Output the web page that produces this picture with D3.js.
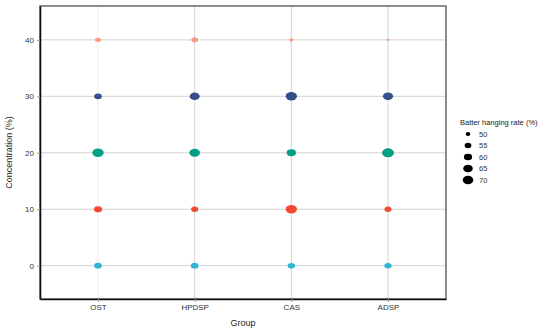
<!DOCTYPE html>
<html>
<head>
<meta charset="utf-8">
<script src="https://cdn.jsdelivr.net/npm/d3@7"></script>
<style>
  body { margin: 0; background: #fff; }
  text { font-family: "Liberation Sans", Arial, sans-serif; }
</style>
</head>
<body>
<svg id="chart"></svg>
<script>
// data
var groups = ["OST", "HPDSP", "CAS", "ADSP"];
var concentrations = [0, 10, 20, 30, 40];
var yTicks = [0, 10, 20, 30, 40];
var legendBreaks = [50, 55, 60, 65, 70];
var colors = ["#2DB6D6", "#F04B30", "#00A087", "#344F8A", "#F59D80"];
// batter hanging rate (%) per concentration row, in group order
var rate0 = [58, 58, 57, 57];
var rate10 = [60, 56, 73, 56];
var rate20 = [73, 70, 64, 76];
var rate30 = [58, 67, 73, 68];
var rate40 = [53, 55, 49, 47];
var rates = [rate0, rate10, rate20, rate30, rate40];

var width = 550, height = 332;
var svg = d3.select("#chart").attr("width", width).attr("height", height);

// panel edges (note: "top" is taken by window.top)
var pLeft = 40, pRight = 446, pTop = 6, pBottom = 299;

//scales
var xscale = d3.scalePoint().domain(groups).range([pLeft, pRight]).padding(0.6);
var yscale = d3.scaleLinear().domain([-5.9, 46.0]).range([pBottom, pTop]);
// area of the dot grows linearly with the rate, width = sqrt(area)
var areaScale = d3.scaleLinear().domain([50, 70]).range([22, 114]);
function dotWidth(v) { return Math.sqrt(Math.max(areaScale(v), 4)); }

// gridlines
svg.append("g").selectAll("line")
  .data(yTicks)
  .enter().append("line")
  .attr("x1", pLeft).attr("x2", pRight)
  .attr("y1", function(d) { return yscale(d); })
  .attr("y2", function(d) { return yscale(d); })
  .attr("stroke", "#d3d3d3")
  .attr("stroke-width", 1);

svg.append("g").selectAll("line")
  .data(groups)
  .enter().append("line")
  .attr("x1", function(d) { return xscale(d); })
  .attr("x2", function(d) { return xscale(d); })
  .attr("y1", pTop).attr("y2", pBottom)
  .attr("stroke", function(d, i) { return i == 0 ? "#ececec" : "#d3d3d3"; })
  .attr("stroke-width", 1);

// points
var points = [];
concentrations.forEach(function(c, i) {
  groups.forEach(function(g, j) {
    points.push({ group: g, conc: c, rate: rates[i][j], color: colors[i] });
  });
});

svg.append("g").selectAll("ellipse")
  .data(points)
  .enter().append("ellipse")
  .attr("cx", function(d) { return xscale(d.group); })
  .attr("cy", function(d) { return yscale(d.conc); })
  .attr("rx", function(d) { return dotWidth(d.rate) / 2; })
  .attr("ry", function(d) { return dotWidth(d.rate) / 2 * 0.75; })
  .attr("fill", function(d) { return d.color; });

// panel border
svg.append("rect")
  .attr("x", pLeft).attr("y", pTop)
  .attr("width", pRight - pLeft).attr("height", pBottom - pTop)
  .attr("fill", "none")
  .attr("stroke", "#444")
  .attr("stroke-width", 1.2);

// axes
var yAxis = d3.axisLeft(yscale).tickValues(yTicks).tickSize(3).tickSizeOuter(0).tickPadding(3);
var gy = svg.append("g").attr("transform", "translate(" + pLeft + ",0)").call(yAxis);
var xAxis = d3.axisBottom(xscale).tickSize(3).tickSizeOuter(0).tickPadding(2);
var gx = svg.append("g").attr("transform", "translate(0," + pBottom + ")").call(xAxis);

[gy, gx].forEach(function(g) {
  g.select(".domain").attr("stroke", "#111").attr("stroke-width", 1.6);
  g.selectAll(".tick line").attr("stroke", "#999");
  g.selectAll(".tick text").attr("fill", "#333").style("font-size", "8px");
});

// axis titles
svg.append("text")
  .text("Group")
  .attr("x", (pLeft + pRight) / 2)
  .attr("y", 326)
  .attr("text-anchor", "middle")
  .style("font-size", "9px")
  .attr("fill", "#222");

svg.append("text")
  .text("Concentration (%)")
  .attr("transform", "translate(12," + ((pTop + pBottom) / 2) + ") rotate(-90)")
  .attr("text-anchor", "middle")
  .style("font-size", "9px")
  .attr("fill", "#222");

// legend
var legend = svg.append("g");
legend.append("text")
  .text("Batter hanging rate (%)")
  .attr("x", 460).attr("y", 125)
  .style("font-size", "7.5px")
  .attr("fill", "#222");

var legendY = d3.scalePoint().domain(legendBreaks).range([134, 180]);

legend.selectAll("ellipse")
  .data(legendBreaks)
  .enter().append("ellipse")
  .attr("cx", 468)
  .attr("cy", function(d) { return legendY(d); })
  .attr("rx", function(d) { return dotWidth(d) / 2; })
  .attr("ry", function(d) { return dotWidth(d) / 2 * 0.8; })
  .attr("fill", "#000");

legend.selectAll(".lab")
  .data(legendBreaks)
  .enter().append("text")
  .attr("class", "lab")
  .text(function(d) { return d; })
  .attr("x", 479)
  .attr("y", function(d) { return legendY(d) + 2.5; })
  .style("font-size", "7.5px")
  .attr("fill", "#333");
</script>
</body>
</html>
